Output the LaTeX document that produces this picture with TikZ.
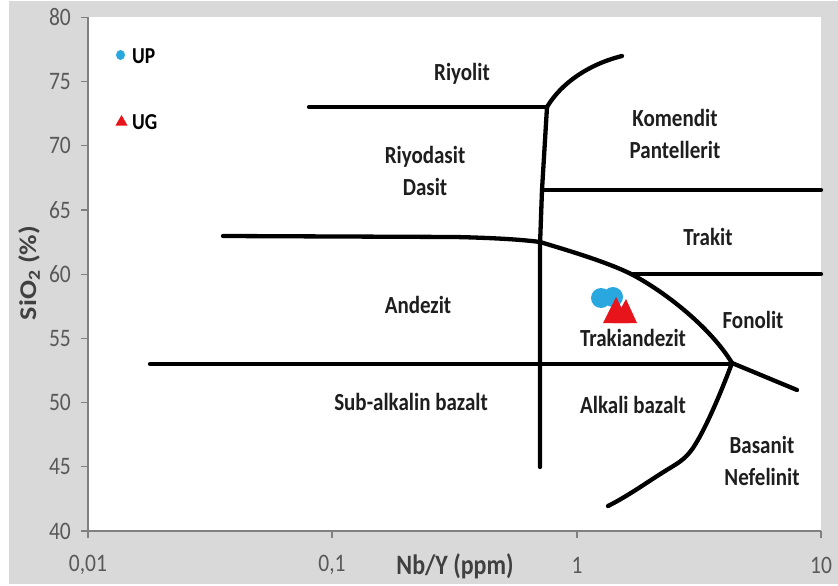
\documentclass[tikz,border=0pt]{standalone}
\usepackage{fontspec}
\usepackage{graphicx}
\setmainfont{Carlito}
\definecolor{bggrey}{HTML}{D9D9D9}
\definecolor{axisgrey}{HTML}{808080}
\definecolor{ticktext}{HTML}{595959}
\definecolor{titletext}{HTML}{404040}
\definecolor{labeltext}{HTML}{1E1E1E}
\definecolor{upblue}{HTML}{29A8E0}
\definecolor{ugred}{HTML}{E8141B}
\newcommand{\vstretch}[1]{\scalebox{1}[1.17]{#1}}
\newcommand{\hstretch}[1]{\scalebox{1.17}[1]{#1}}
\tikzset{
  boundary/.style={line width=4.3pt, line cap=round, line join=round, black},
  fieldlabel/.style={font=\fontsize{21}{25}\selectfont\bfseries, text=labeltext, inner sep=0pt, align=center},
  ticklabel/.style={font=\fontsize{21.5}{25}\selectfont, text=ticktext, inner sep=0pt},
  axistitle/.style={font=\fontsize{24}{28}\selectfont\bfseries, text=titletext, inner sep=0pt},
  legendtext/.style={font=\fontsize{19.5}{23}\selectfont\bfseries, text=black, inner sep=0pt, anchor=west},
  axisline/.style={axisgrey, line width=1.2pt}
}
\begin{document}
\begin{tikzpicture}[x=1pt,y=-1pt]
\useasboundingbox (0,0) rectangle (838,586);
\fill[white] (0,0) rectangle (838,586);
\fill[bggrey] (9,1) rectangle (838,584);
\fill[white] (88,17) rectangle (821,531);
% axes
\draw[axisline] (88,17) -- (88,531) -- (821,531);
\foreach \i in {0,...,8} {
  \pgfmathsetmacro{\yy}{531-64.2*\i}
  \pgfmathtruncatemacro{\vv}{40+5*\i}
  \draw[axisline] (81,\yy) -- (88,\yy);
  \node[ticklabel, anchor=east] (yt\i) at (71,\yy) {\vstretch{\vv}};
}
\foreach \xx/\lab/\nm in {88/{0,01}/a,332/{0,1}/b,577/1/c,821/10/d} {
  \draw[axisline] (\xx,531) -- (\xx,538);
  \node[ticklabel] (xt\nm) at (\xx,565) {\vstretch{\lab}};
}
\node[axistitle] (xtitle) at (455,566) {\vstretch{Nb/Y (ppm)}};
\node[axistitle, rotate=90] (ytitle) at (29,273) {\hstretch{SiO\textsubscript{2} (\%)}};
% legend
\fill[upblue] (120.5,55) ellipse (4.5 and 5);
\node[legendtext] (upl) at (132,56) {\vstretch{UP}};
\fill[ugred] (115.5,125.5) -- (127.5,125.5) -- (121.5,115) -- cycle;
\node[legendtext] (ugl) at (132,122) {\vstretch{UG}};
% boundaries
\draw[boundary] (309,107) -- (547,107);
\draw[boundary] (547,107) .. controls (562,82) and (590,64) .. (622,56);
\draw[boundary] (547,107) -- (542,190) -- (540,245) -- (540,467);
\draw[boundary] (542,190) -- (821,190);
\draw[boundary] (633,274) -- (821,274);
\draw[boundary] (223,236) -- (455,237) .. controls (500,238) and (525,240) .. (540,242)
  .. controls (570,251) and (610,263) .. (633,275)
  .. controls (670,295) and (712,330) .. (732,363);
\draw[boundary] (150,364) -- (732,364);
\draw[boundary] (732,363) -- (797,390);
\draw[boundary] (732,363) .. controls (720,395) and (705,430) .. (693,448)
  .. controls (686,458) and (680,462) .. (670,468)
  .. controls (650,480) and (630,495) .. (608,506);
% data
\fill[upblue] (601,298) circle (10);
\fill[upblue] (613,297) circle (10);
\fill[ugred] (603,323) -- (629,323) -- (616,297) -- cycle;
\fill[ugred] (613,323) -- (637,323) -- (626,299) -- cycle;
% field labels
\node[fieldlabel] (riyolit) at (462,74) {\vstretch{Riyolit}};
\node[fieldlabel] (riyodasit) at (425,157) {\vstretch{Riyodasit}};
\node[fieldlabel] (dasit) at (425,187) {\vstretch{Dasit}};
\node[fieldlabel] (komendit) at (675,118) {\vstretch{Komendit}};
\node[fieldlabel] (pantellerit) at (675,150) {\vstretch{Pantellerit}};
\node[fieldlabel] (trakit) at (708,237) {\vstretch{Trakit}};
\node[fieldlabel] (andezit) at (418,305) {\vstretch{Andezit}};
\node[fieldlabel] (trakiandezit) at (633,338) {\vstretch{Trakiandezit}};
\node[fieldlabel] (fonolit) at (753,320) {\vstretch{Fonolit}};
\node[fieldlabel] (subalk) at (411,402) {\vstretch{Sub-alkalin bazalt}};
\node[fieldlabel] (alkali) at (633,405) {\vstretch{Alkali bazalt}};
\node[fieldlabel] (basanit) at (762,445) {\vstretch{Basanit}};
\node[fieldlabel] (nefelinit) at (762,477) {\vstretch{Nefelinit}};
\end{tikzpicture}
\end{document}
